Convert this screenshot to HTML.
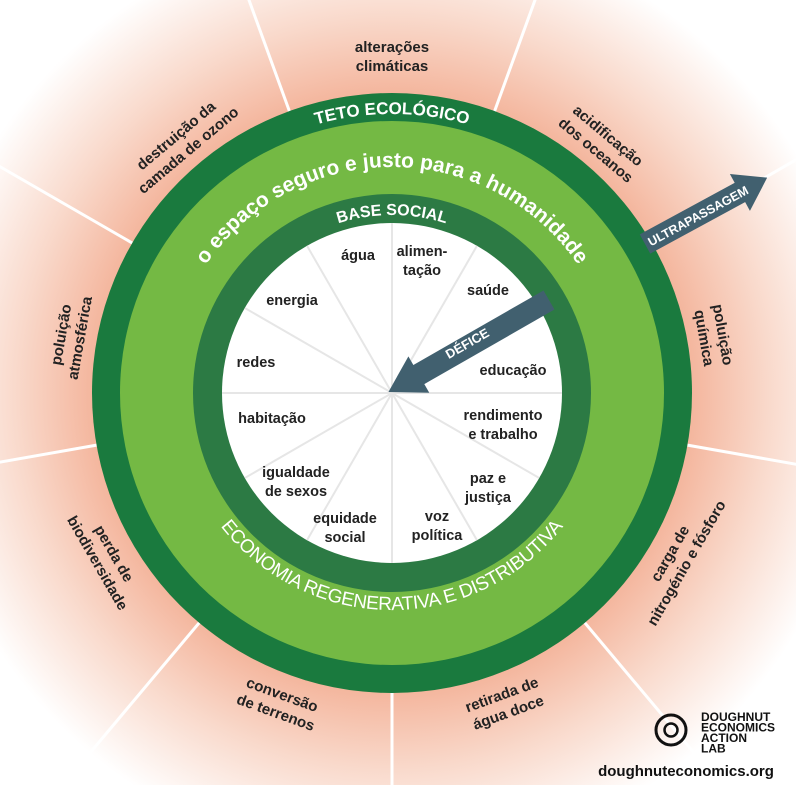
<!DOCTYPE html>
<html><head><meta charset="utf-8"><style>
html,body{margin:0;padding:0;background:#fff;overflow:hidden;width:796px;height:785px;}
svg{display:block;font-family:"Liberation Sans",sans-serif;}
.o{font-size:15px;font-weight:bold;fill:#222;text-anchor:middle;}
.i{font-size:14.5px;font-weight:bold;fill:#222;text-anchor:middle;}
</style></head><body>
<svg width="796" height="785" viewBox="0 0 796 785" xmlns="http://www.w3.org/2000/svg" style="overflow:hidden">
<defs>
<radialGradient id="bg" gradientUnits="userSpaceOnUse" cx="392" cy="393" r="470">
<stop offset="0.6" stop-color="#f3ae93"/>
<stop offset="0.8" stop-color="#f9d9cb"/>
<stop offset="1" stop-color="#ffffff"/>
</radialGradient>
<clipPath id="cl"><rect width="796" height="785"/></clipPath>
<path id="teto" d="M113,393 A279,279 0 0 1 671,393"/>
<path id="esp" d="M166,393 A226,226 0 0 1 618,393"/>
<path id="base" d="M214,393 A178,178 0 0 1 570,393"/>
<path id="eco" d="M175,393 A217,217 0 0 0 609,393"/>
</defs>
<g clip-path="url(#cl)">
<rect width="796" height="785" fill="#fff"/>
<circle cx="392" cy="393" r="560" fill="url(#bg)"/>
<g stroke="#fff" stroke-width="3">
<g transform="rotate(-70 392 393)"><line x1="692" y1="393" x2="960" y2="393"/></g>
<g transform="rotate(-30 392 393)"><line x1="692" y1="393" x2="960" y2="393"/></g>
<g transform="rotate(10 392 393)"><line x1="692" y1="393" x2="960" y2="393"/></g>
<g transform="rotate(50 392 393)"><line x1="692" y1="393" x2="960" y2="393"/></g>
<g transform="rotate(90 392 393)"><line x1="692" y1="393" x2="960" y2="393"/></g>
<g transform="rotate(130 392 393)"><line x1="692" y1="393" x2="960" y2="393"/></g>
<g transform="rotate(170 392 393)"><line x1="692" y1="393" x2="960" y2="393"/></g>
<g transform="rotate(210 392 393)"><line x1="692" y1="393" x2="960" y2="393"/></g>
<g transform="rotate(250 392 393)"><line x1="692" y1="393" x2="960" y2="393"/></g>
</g>
<circle cx="392" cy="393" r="300" fill="#1a7a3e"/>
<circle cx="392" cy="393" r="272" fill="#74b944"/>
<circle cx="392" cy="393" r="199" fill="#2c7a44"/>
<circle cx="392" cy="393" r="170" fill="#fff"/>
<g stroke="#e6e6e6" stroke-width="2">
<g transform="rotate(-90 392 393)"><line x1="392" y1="393" x2="562" y2="393"/></g>
<g transform="rotate(-60 392 393)"><line x1="392" y1="393" x2="562" y2="393"/></g>
<g transform="rotate(-30 392 393)"><line x1="392" y1="393" x2="562" y2="393"/></g>
<g transform="rotate(0 392 393)"><line x1="392" y1="393" x2="562" y2="393"/></g>
<g transform="rotate(30 392 393)"><line x1="392" y1="393" x2="562" y2="393"/></g>
<g transform="rotate(60 392 393)"><line x1="392" y1="393" x2="562" y2="393"/></g>
<g transform="rotate(90 392 393)"><line x1="392" y1="393" x2="562" y2="393"/></g>
<g transform="rotate(120 392 393)"><line x1="392" y1="393" x2="562" y2="393"/></g>
<g transform="rotate(150 392 393)"><line x1="392" y1="393" x2="562" y2="393"/></g>
<g transform="rotate(180 392 393)"><line x1="392" y1="393" x2="562" y2="393"/></g>
<g transform="rotate(210 392 393)"><line x1="392" y1="393" x2="562" y2="393"/></g>
<g transform="rotate(240 392 393)"><line x1="392" y1="393" x2="562" y2="393"/></g>
</g>
<text font-size="17" font-weight="bold" fill="#fff" text-anchor="middle"><textPath href="#teto" startOffset="50%">TETO ECOLÓGICO</textPath></text>
<text font-size="21" font-weight="bold" fill="#fff" text-anchor="middle"><textPath href="#esp" startOffset="50%">o espaço seguro e justo para a humanidade</textPath></text>
<text font-size="16" font-weight="bold" fill="#fff" text-anchor="middle"><textPath href="#base" startOffset="50%">BASE SOCIAL</textPath></text>
<text font-size="19" fill="#fff" text-anchor="middle"><textPath href="#eco" startOffset="50%" textLength="395">ECONOMIA REGENERATIVA E DISTRIBUTIVA</textPath></text>

<g transform="rotate(0 392 393)"><text class="o" x="392" y="52">alterações</text><text class="o" x="392" y="71">climáticas</text></g>
<g transform="rotate(40 392 393)"><text class="o" x="392" y="62">acidificação</text><text class="o" x="392" y="81">dos oceanos</text></g>
<g transform="rotate(80 392 393)"><text class="o" x="392" y="62">poluição</text><text class="o" x="392" y="81">química</text></g>
<g transform="rotate(-60 392 393)"><text class="o" x="392" y="719">carga de</text><text class="o" x="392" y="738">nitrogénio e fósforo</text></g>
<g transform="rotate(-20 392 393)"><text class="o" x="392" y="719">retirada de</text><text class="o" x="392" y="738">água doce</text></g>
<g transform="rotate(20 392 393)"><text class="o" x="392" y="719">conversão</text><text class="o" x="392" y="738">de terrenos</text></g>
<g transform="rotate(60 392 393)"><text class="o" x="392" y="719">perda de</text><text class="o" x="392" y="738">biodiversidade</text></g>
<g transform="rotate(-80 392 393)"><text class="o" x="392" y="62">poluição</text><text class="o" x="392" y="81">atmosférica</text></g>
<g transform="rotate(-40 392 393)"><text class="o" x="392" y="62">destruição da</text><text class="o" x="392" y="81">camada de ozono</text></g>

<text class="i" x="358" y="260">água</text>
<text class="i" x="422" y="256">alimen-</text><text class="i" x="422" y="275">tação</text>
<text class="i" x="488" y="295">saúde</text>
<text class="i" x="513" y="375">educação</text>
<text class="i" x="503" y="420">rendimento</text><text class="i" x="503" y="439">e trabalho</text>
<text class="i" x="488" y="483">paz e</text><text class="i" x="488" y="502">justiça</text>
<text class="i" x="437" y="521">voz</text><text class="i" x="437" y="540">política</text>
<text class="i" x="345" y="523">equidade</text><text class="i" x="345" y="542">social</text>
<text class="i" x="296" y="477">igualdade</text><text class="i" x="296" y="496">de sexos</text>
<text class="i" x="272" y="423">habitação</text>
<text class="i" x="256" y="367">redes</text>
<text class="i" x="292" y="305">energia</text>

<g transform="translate(645,244) rotate(-28.5)" fill="#41606f">
<rect x="0" y="-11" width="110" height="22"/>
<polygon points="108,-21 139,0 108,21"/>
<text x="4" y="5" font-size="12.5" font-weight="bold" fill="#fff">ULTRAPASSAGEM</text>
</g>
<g transform="translate(549,300) rotate(150.2)" fill="#41606f">
<rect x="0" y="-11" width="152" height="22"/>
<polygon points="150,-21 185,0 150,21"/>
</g>
<g transform="translate(467,343) rotate(-29.8)"><text x="0" y="5" font-size="13" font-weight="bold" fill="#fff" text-anchor="middle">DÉFICE</text></g>

<circle cx="671" cy="730" r="15" fill="none" stroke="#111" stroke-width="3"/>
<circle cx="671" cy="730" r="6.5" fill="none" stroke="#111" stroke-width="2.5"/>
<g font-size="12" font-weight="bold" fill="#111">
<text x="701" y="721">DOUGHNUT</text>
<text x="701" y="731.5">ECONOMICS</text>
<text x="701" y="742">ACTION</text>
<text x="701" y="752.5">LAB</text>
</g>
<text x="686" y="776" font-size="15" font-weight="bold" fill="#111" text-anchor="middle">doughnuteconomics.org</text>
</g>
</svg>
</body></html>
